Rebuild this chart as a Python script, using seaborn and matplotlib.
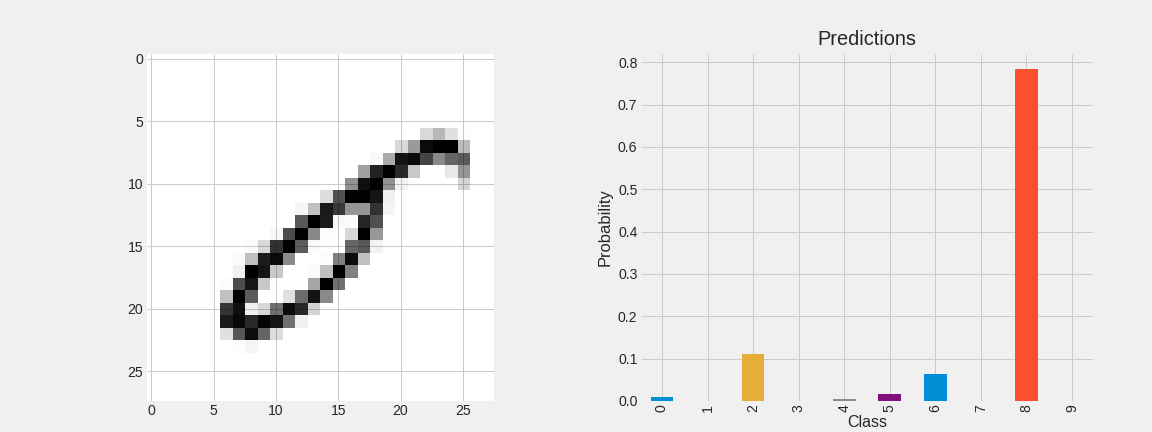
# Digit image next to the class probabilities of the classifier

import numpy as np
import seaborn as sns
import matplotlib.pyplot as plt

# gray level of the digit, row: (first column, gray values), the rest is white
digit_rows = {
    6: (22, [0xd9, 0xb8, 0xe0, 0xfd]),
    7: (20, [0xd8, 0x9a, 0x0a, 0x00, 0x00, 0xbb]),
    8: (18, [0xf8, 0xaa, 0x15, 0x0a, 0x45, 0x8a, 0x65, 0x5a]),
    9: (17, [0xa0, 0x22, 0x00, 0x2a, 0xc8, 0xff, 0xff, 0xe8, 0x95]),
    10: (16, [0x90, 0x10, 0x00, 0x90, 0xf2, 0xff, 0xff, 0xff, 0xff, 0xd5]),
    11: (14, [0xdc, 0x50, 0x00, 0x00, 0x15, 0xf0]),
    12: (12, [0xf5, 0xc0, 0x18, 0x38, 0x95, 0x95, 0x32, 0xf5]),
    13: (12, [0x58, 0x00, 0x1c, 0xf8, 0xfc, 0x25, 0x50]),
    14: (10, [0xf8, 0x4c, 0x00, 0x88, 0xfc, 0xfe, 0xd8, 0x00, 0x98]),
    15: (8, [0xfb, 0xd8, 0x32, 0x00, 0x5c, 0xfa, 0xff, 0xff, 0x65, 0x58, 0xf2]),
    16: (7, [0xfb, 0xc0, 0x1c, 0x0a, 0x8a, 0xff, 0xff, 0xfc, 0x80, 0x0c, 0xc0]),
    17: (7, [0xf0, 0x00, 0x14, 0xc8, 0xff, 0xff, 0xfb, 0xc0, 0x00, 0x80]),
    18: (6, [0xfc, 0x4c, 0x14, 0xc8, 0xff, 0xff, 0xff, 0xa5, 0x00, 0x70]),
    19: (6, [0xc0, 0x00, 0x5c, 0xff, 0xff, 0xe0, 0x6c, 0x14, 0x8a]),
    20: (6, [0x35, 0x10, 0xf0, 0xd8, 0x70, 0x0c, 0x28, 0xd4]),
    21: (6, [0x1a, 0x08, 0x28, 0x05, 0x14, 0x70, 0xf0]),
    22: (6, [0xe0, 0x55, 0x0c, 0x65, 0xdc]),
    23: (7, [0xfc, 0xf5]),
}

classes = ['0', '1', '2', '3', '4', '5', '6', '7', '8', '9']
probabilities = [0.0095, 0.0, 0.111, 0.0, 0.005, 0.0165, 0.064, 0.0, 0.784, 0.0]
bar_colors = ['#008fd5', '#fc4f30', '#e5ae38', '#6d904f', '#8b8b8b',
              '#810f7c', '#008fd5', '#e5ae38', '#fc4f30', '#6d904f']

sns.set_theme(style='whitegrid')
plt.style.use('fivethirtyeight')
plt.rcParams['font.family'] = ['Liberation Sans', 'DejaVu Sans']
plt.rcParams['text.color'] = '#262626'
plt.rcParams['axes.labelcolor'] = '#262626'
plt.rcParams['xtick.color'] = '#262626'
plt.rcParams['ytick.color'] = '#262626'
plt.rcParams['grid.color'] = '#cbcbcb'
plt.rcParams['axes.grid'] = True

digit = np.full((28, 28), 255)
for row, (first, grays) in digit_rows.items():
    digit[row, first:first + len(grays)] = grays

# black with the ink as alpha, the grid stays visible on the white part
ink = np.zeros((28, 28, 4))
ink[..., 3] = (255 - digit) / 255

fig = plt.figure(figsize=(16, 6), dpi=72, facecolor='#f0f0f0')

ax1 = fig.add_axes([146.7 / 1152, 31.3 / 432, 347.3 / 1152, 346.7 / 432])
ax1.set_facecolor('white')
ax1.imshow(ink, zorder=3, aspect='auto')
ax1.set_xlim(-0.37, 27.5)
ax1.set_ylim(27.37, -0.4)
ax1.set_xticks(np.arange(0, 30, 5))
ax1.set_yticks(np.arange(0, 30, 5))
ax1.tick_params(labelsize=14, length=0)
ax1.grid(True, color='#cbcbcb', linewidth=1)
ax1.set_axisbelow(True)
for s in ax1.spines.values():
    s.set_visible(False)

ax2 = fig.add_axes([641 / 1152, 31 / 432, 452 / 1152, 347 / 432])
ax2.set_facecolor('#f0f0f0')
sns.barplot(x=classes, y=probabilities, hue=classes, palette=bar_colors, legend=False,
            width=0.5, saturation=1, dodge=False, linewidth=0, ax=ax2)
ax2.set_xlim(-0.46, 9.46)
ax2.set_ylim(0, 0.8195)
ax2.set_yticks(np.arange(0, 0.9, 0.1))
ax2.tick_params(axis='x', labelsize=14, labelrotation=90, length=0)
ax2.tick_params(axis='y', labelsize=14, length=0)
ax2.grid(True, color='#cbcbcb', linewidth=1)
ax2.set_axisbelow(True)
ax2.set_title('Predictions', fontsize=20, pad=9)
ax2.set_xlabel('Class', fontsize=16, labelpad=3)
ax2.set_ylabel('Probability', fontsize=16.5, labelpad=5)
for s in ax2.spines.values():
    s.set_visible(False)

fig.savefig('out.png', dpi=72, facecolor=fig.get_facecolor())
